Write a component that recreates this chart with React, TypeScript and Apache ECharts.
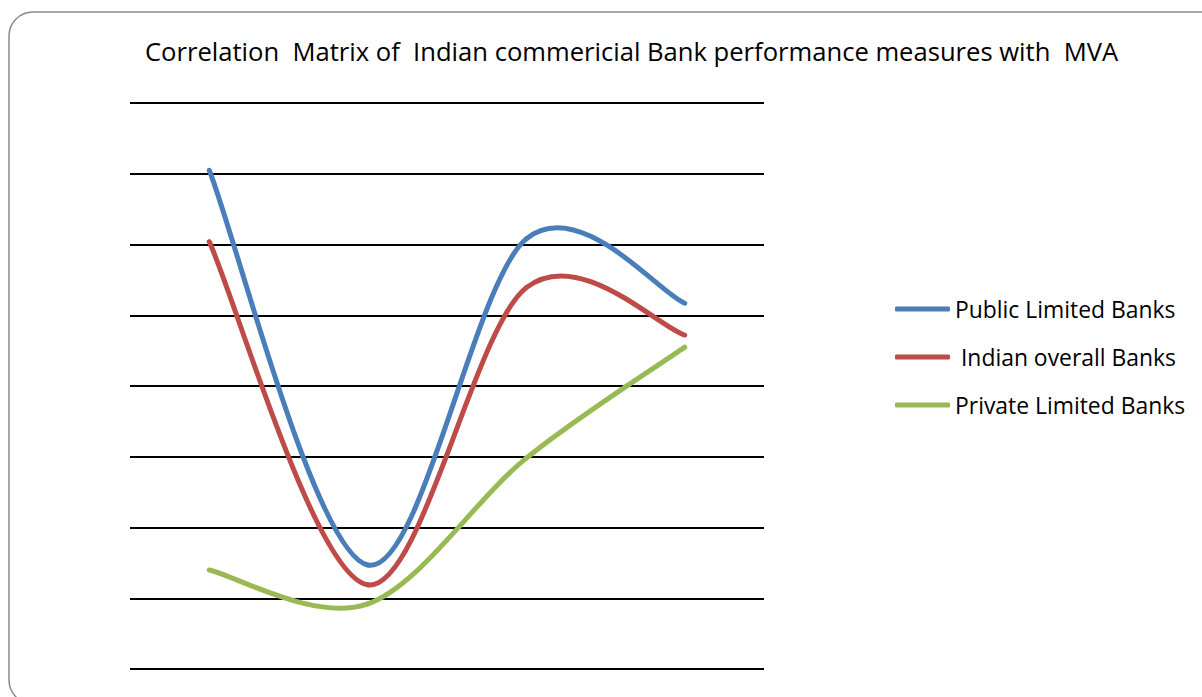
import React, { useEffect, useRef } from "react";
import * as echarts from "echarts";

// Performance measures on the category axis (axis labels are hidden)
const measures = ["Measure 1", "Measure 2", "Measure 3", "Measure 4"];

// Correlation of each measure with MVA
const publicLimited = [0.305, -0.253, 0.208, 0.117];
const indianOverall = [0.204, -0.281, 0.139, 0.072];
const privateLimited = [-0.26, -0.308, -0.102, 0.055];

const seriesNames = ["Public Limited Banks", " Indian overall Banks", "Private Limited Banks"];
const seriesColors = ["#4a7ebb", "#be4b48", "#98b954"];

const titleText = "Correlation  Matrix of  Indian commericial Bank performance measures with  MVA";

const FONT = "'Open Sans', sans-serif";
const LINE_WIDTH = 5;
// Tangent factor of the cubic Bezier smoothing (Catmull-Rom style)
const TENSION = 1 / 6;

type Pt = [number, number];

// Custom series that draws one smoothed segment per data item,
// from point i to point i+1, using neighbouring points for the tangents.
function smoothLineSeries(name: string, values: number[], color: string) {
  return {
    type: "custom",
    name,
    data: values.map((v, i) => [i, v]),
    encode: { x: 0, y: 1 },
    itemStyle: { color },
    renderItem: (params: any, api: any) => {
      const i = params.dataIndex;
      const n = values.length;
      if (i >= n - 1) return null;
      const p = (j: number): Pt => {
        const k = Math.max(0, Math.min(n - 1, j));
        return api.coord([k, values[k]]) as Pt;
      };
      const p0 = p(i - 1);
      const p1 = p(i);
      const p2 = p(i + 1);
      const p3 = p(i + 2);
      const cp1: Pt = [p1[0] + (p2[0] - p0[0]) * TENSION, p1[1] + (p2[1] - p0[1]) * TENSION];
      const cp2: Pt = [p2[0] - (p3[0] - p1[0]) * TENSION, p2[1] - (p3[1] - p1[1]) * TENSION];
      return {
        type: "bezierCurve",
        shape: {
          x1: p1[0],
          y1: p1[1],
          cpx1: cp1[0],
          cpy1: cp1[1],
          cpx2: cp2[0],
          cpy2: cp2[1],
          x2: p2[0],
          y2: p2[1],
        },
        style: { fill: "none", stroke: color, lineWidth: LINE_WIDTH, lineCap: "round" },
      };
    },
  };
}

export default function App() {
  const ref = useRef<HTMLDivElement>(null);

  useEffect(() => {
    document.body.style.margin = "0";
    if (!ref.current) return;
    const chart = echarts.init(ref.current, null, { renderer: "svg" });
    const values = [publicLimited, indianOverall, privateLimited];
    chart.setOption({
      animation: false,
      backgroundColor: "#ffffff",
      title: {
        text: titleText,
        left: 145,
        top: 38.5,
        padding: 0,
        textStyle: { fontFamily: FONT, fontSize: 25.6, fontWeight: "normal", color: "#000" },
      },
      legend: {
        orient: "vertical",
        left: 895,
        top: 297,
        padding: 0,
        itemWidth: 55,
        itemHeight: 5,
        itemGap: 24,
        icon: "roundRect",
        data: seriesNames.map((name, i) => ({ name, itemStyle: { color: seriesColors[i] } })),
        textStyle: { fontFamily: FONT, fontSize: 22.9, color: "#000", lineHeight: 24 },
      },
      grid: { left: 130, right: 438, top: 103, bottom: 697 - 669 },
      xAxis: {
        type: "category",
        data: measures,
        boundaryGap: true,
        axisLine: { show: false },
        axisTick: { show: false },
        axisLabel: { show: false },
      },
      yAxis: {
        type: "value",
        min: -0.4,
        max: 0.4,
        interval: 0.1,
        axisLine: { show: false },
        axisTick: { show: false },
        axisLabel: { show: false },
        splitLine: { show: true, lineStyle: { color: "#000", width: 2 } },
      },
      graphic: [
        {
          type: "rect",
          shape: { x: 9, y: 12, width: 1230, height: 692, r: 24 },
          style: { fill: "none", stroke: "#8a8a8a", lineWidth: 1.5 },
          silent: true,
        },
      ],
      series: values.map((d, i) => smoothLineSeries(seriesNames[i], d, seriesColors[i])),
    });
    return () => chart.dispose();
  }, []);

  return <div ref={ref} style={{ width: 1202, height: 697 }} />;
}
